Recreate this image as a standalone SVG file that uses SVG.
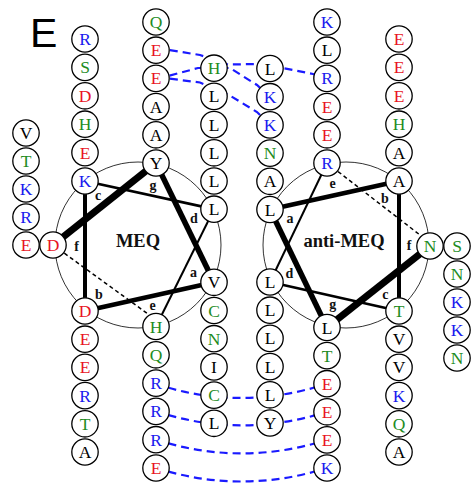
<svg xmlns="http://www.w3.org/2000/svg" width="471" height="483" viewBox="0 0 471 483">
<style>
.wheel{fill:none;stroke:#333;stroke-width:1}
.hx{stroke:#000;stroke-linecap:butt;fill:none}
.hd{stroke:#000;stroke-width:1.5;stroke-dasharray:4 3;fill:none}
.sb{stroke:#1a1aff;stroke-width:2.2;stroke-dasharray:8 5;fill:none}
.nd circle{fill:#fff;stroke:#000;stroke-width:1.3}
.nd text{font-family:"Liberation Serif","Times New Roman",serif;font-size:17.5px;text-anchor:middle}
.k text{fill:#000}
.r text{fill:#e8141e}
.b text{fill:#1a1aee}
.g text{fill:#1e8c1e}
.hp{font-family:"Liberation Serif","Times New Roman",serif;font-size:14px;font-weight:bold;text-anchor:middle;fill:#111}
.ttl{font-family:"Liberation Serif","Times New Roman",serif;font-size:18.5px;font-weight:bold;text-anchor:middle;fill:#111}
</style>
<rect width="471" height="483" fill="#fff"/>
<text x="30" y="46.5" font-family="Liberation Sans, Arial, sans-serif" font-size="41">E</text>

<g id="wheels">
<circle class="wheel" cx="138" cy="245" r="83"/>
<circle class="wheel" cx="346" cy="245" r="83"/>
</g>

<g id="connectors">
<line class="hx" x1="53" y1="245" x2="156" y2="163" stroke-width="7"/>
<line class="hx" x1="156" y1="163" x2="214" y2="282.3" stroke-width="5.5"/>
<line class="hx" x1="214" y1="282.3" x2="85" y2="311" stroke-width="4.5"/>
<line class="hx" x1="85" y1="311" x2="85" y2="181" stroke-width="4"/>
<line class="hx" x1="85" y1="181" x2="214" y2="209.2" stroke-width="2.8"/>
<line class="hx" x1="214" y1="209.2" x2="156" y2="326.5" stroke-width="2"/>
<line class="hd" x1="53" y1="245" x2="148" y2="314"/>
<line class="hx" x1="430" y1="246" x2="327" y2="327.5" stroke-width="7"/>
<line class="hx" x1="327" y1="327.5" x2="270" y2="209.5" stroke-width="5.5"/>
<line class="hx" x1="270" y1="209.5" x2="399" y2="181" stroke-width="4.5"/>
<line class="hx" x1="399" y1="181" x2="399" y2="311" stroke-width="4"/>
<line class="hx" x1="399" y1="311" x2="270" y2="282" stroke-width="2.8"/>
<line class="hx" x1="270" y1="282" x2="327" y2="163" stroke-width="2"/>
<line class="hd" x1="327" y1="163" x2="420" y2="235"/>
<path class="sb" d="M157,48 L200,55 L214,60 L228,64.5 L257,64 L283,68 L313,74 L327,78"/>
<path class="sb" d="M157,79 L198,68 L230,68 L257,85 L270,97"/>
<path class="sb" d="M157,77 L200,82.5 L229,95 L257,112 L270,125"/>
<path class="sb" d="M156,384 Q241,412 327,383.7"/>
<path class="sb" d="M156,411.4 Q241,439 327,411.8"/>
<path class="sb" d="M156,439.7 Q241,467 327,439.9"/>
<path class="sb" d="M156,468 Q241,495 327,468"/>
</g>

<g id="n1-V" class="nd k" transform="translate(26,133)"><circle r="13.2"/><text y="6">V</text></g>
<g id="n1-T" class="nd g" transform="translate(26,161)"><circle r="13.2"/><text y="6">T</text></g>
<g id="n1-K" class="nd b" transform="translate(26,189)"><circle r="13.2"/><text y="6">K</text></g>
<g id="n1-R" class="nd b" transform="translate(26,217)"><circle r="13.2"/><text y="6">R</text></g>
<g id="n1-E" class="nd r" transform="translate(26,245)"><circle r="13.2"/><text y="6">E</text></g>
<g id="meq-f-D" class="nd r" transform="translate(53,245)"><circle r="13.2"/><text y="6">D</text></g>

<g id="n2-R" class="nd b" transform="translate(85,39)"><circle r="13.2"/><text y="6">R</text></g>
<g id="n2-S" class="nd g" transform="translate(85,67.4)"><circle r="13.2"/><text y="6">S</text></g>
<g id="n2-D" class="nd r" transform="translate(85,95.8)"><circle r="13.2"/><text y="6">D</text></g>
<g id="n2-H" class="nd g" transform="translate(85,124.2)"><circle r="13.2"/><text y="6">H</text></g>
<g id="n2-E" class="nd r" transform="translate(85,152.6)"><circle r="13.2"/><text y="6">E</text></g>
<g id="meq-c-K" class="nd b" transform="translate(85,181)"><circle r="13.2"/><text y="6">K</text></g>
<g id="meq-b-D" class="nd r" transform="translate(85,311)"><circle r="13.2"/><text y="6">D</text></g>
<g id="n2-E2" class="nd r" transform="translate(85,339.2)"><circle r="13.2"/><text y="6">E</text></g>
<g id="n2-E3" class="nd r" transform="translate(85,367.4)"><circle r="13.2"/><text y="6">E</text></g>
<g id="n2-R2" class="nd b" transform="translate(85,395.6)"><circle r="13.2"/><text y="6">R</text></g>
<g id="n2-T" class="nd g" transform="translate(85,423.8)"><circle r="13.2"/><text y="6">T</text></g>
<g id="n2-A" class="nd k" transform="translate(85,452)"><circle r="13.2"/><text y="6">A</text></g>

<g id="n3-Q" class="nd g" transform="translate(156,22)"><circle r="13.2"/><text y="6">Q</text></g>
<g id="n3-E1" class="nd r" transform="translate(156,50.2)"><circle r="13.2"/><text y="6">E</text></g>
<g id="n3-E2" class="nd r" transform="translate(156,78.4)"><circle r="13.2"/><text y="6">E</text></g>
<g id="n3-A1" class="nd k" transform="translate(156,106.6)"><circle r="13.2"/><text y="6">A</text></g>
<g id="n3-A2" class="nd k" transform="translate(156,134.8)"><circle r="13.2"/><text y="6">A</text></g>
<g id="meq-g-Y" class="nd k" transform="translate(156,163)"><circle r="13.2"/><text y="6">Y</text></g>
<g id="meq-e-H" class="nd g" transform="translate(156,326.5)"><circle r="13.2"/><text y="6">H</text></g>
<g id="n3-Q2" class="nd g" transform="translate(156,354.8)"><circle r="13.2"/><text y="6">Q</text></g>
<g id="n3-R1" class="nd b" transform="translate(156,383.1)"><circle r="13.2"/><text y="6">R</text></g>
<g id="n3-R2" class="nd b" transform="translate(156,411.4)"><circle r="13.2"/><text y="6">R</text></g>
<g id="n3-R3" class="nd b" transform="translate(156,439.7)"><circle r="13.2"/><text y="6">R</text></g>
<g id="n3-E3" class="nd r" transform="translate(156,468)"><circle r="13.2"/><text y="6">E</text></g>

<g id="n4-H" class="nd g" transform="translate(214,68.2)"><circle r="13.2"/><text y="6">H</text></g>
<g id="n4-L1" class="nd k" transform="translate(214,96.4)"><circle r="13.2"/><text y="6">L</text></g>
<g id="n4-L2" class="nd k" transform="translate(214,124.6)"><circle r="13.2"/><text y="6">L</text></g>
<g id="n4-L3" class="nd k" transform="translate(214,152.8)"><circle r="13.2"/><text y="6">L</text></g>
<g id="n4-L4" class="nd k" transform="translate(214,181)"><circle r="13.2"/><text y="6">L</text></g>
<g id="meq-d-L" class="nd k" transform="translate(214,209.2)"><circle r="13.2"/><text y="6">L</text></g>
<g id="meq-a-V" class="nd k" transform="translate(214,282.3)"><circle r="13.2"/><text y="6">V</text></g>
<g id="n4-C1" class="nd g" transform="translate(214,310.5)"><circle r="13.2"/><text y="6">C</text></g>
<g id="n4-N" class="nd g" transform="translate(214,338.7)"><circle r="13.2"/><text y="6">N</text></g>
<g id="n4-I" class="nd k" transform="translate(214,366.9)"><circle r="13.2"/><text y="6">I</text></g>
<g id="n4-C2" class="nd g" transform="translate(214,395.1)"><circle r="13.2"/><text y="6">C</text></g>
<g id="n4-L5" class="nd k" transform="translate(214,423.3)"><circle r="13.2"/><text y="6">L</text></g>

<g id="n5-L1" class="nd k" transform="translate(270,68.5)"><circle r="13.2"/><text y="6">L</text></g>
<g id="n5-K1" class="nd b" transform="translate(270,96.7)"><circle r="13.2"/><text y="6">K</text></g>
<g id="n5-K2" class="nd b" transform="translate(270,124.9)"><circle r="13.2"/><text y="6">K</text></g>
<g id="n5-N" class="nd g" transform="translate(270,153.1)"><circle r="13.2"/><text y="6">N</text></g>
<g id="n5-A" class="nd k" transform="translate(270,181.3)"><circle r="13.2"/><text y="6">A</text></g>
<g id="anti-a-L" class="nd k" transform="translate(270,209.5)"><circle r="13.2"/><text y="6">L</text></g>
<g id="anti-d-L" class="nd k" transform="translate(270,282)"><circle r="13.2"/><text y="6">L</text></g>
<g id="n5-L2" class="nd k" transform="translate(270,310.2)"><circle r="13.2"/><text y="6">L</text></g>
<g id="n5-L3" class="nd k" transform="translate(270,338.4)"><circle r="13.2"/><text y="6">L</text></g>
<g id="n5-L4" class="nd k" transform="translate(270,366.6)"><circle r="13.2"/><text y="6">L</text></g>
<g id="n5-L5" class="nd k" transform="translate(270,394.8)"><circle r="13.2"/><text y="6">L</text></g>
<g id="n5-Y" class="nd k" transform="translate(270,423)"><circle r="13.2"/><text y="6">Y</text></g>

<g id="n6-K1" class="nd b" transform="translate(327,22)"><circle r="13.2"/><text y="6">K</text></g>
<g id="n6-L" class="nd k" transform="translate(327,50.2)"><circle r="13.2"/><text y="6">L</text></g>
<g id="n6-R1" class="nd b" transform="translate(327,78.4)"><circle r="13.2"/><text y="6">R</text></g>
<g id="n6-E1" class="nd r" transform="translate(327,106.6)"><circle r="13.2"/><text y="6">E</text></g>
<g id="n6-E2" class="nd r" transform="translate(327,134.8)"><circle r="13.2"/><text y="6">E</text></g>
<g id="anti-e-R" class="nd b" transform="translate(327,163)"><circle r="13.2"/><text y="6">R</text></g>
<g id="anti-g-L" class="nd k" transform="translate(327,327.5)"><circle r="13.2"/><text y="6">L</text></g>
<g id="n6-T" class="nd g" transform="translate(327,355.6)"><circle r="13.2"/><text y="6">T</text></g>
<g id="n6-E3" class="nd r" transform="translate(327,383.7)"><circle r="13.2"/><text y="6">E</text></g>
<g id="n6-E4" class="nd r" transform="translate(327,411.8)"><circle r="13.2"/><text y="6">E</text></g>
<g id="n6-E5" class="nd r" transform="translate(327,439.9)"><circle r="13.2"/><text y="6">E</text></g>
<g id="n6-K2" class="nd b" transform="translate(327,468)"><circle r="13.2"/><text y="6">K</text></g>

<g id="n7-E1" class="nd r" transform="translate(399,39)"><circle r="13.2"/><text y="6">E</text></g>
<g id="n7-E2" class="nd r" transform="translate(399,67.4)"><circle r="13.2"/><text y="6">E</text></g>
<g id="n7-E3" class="nd r" transform="translate(399,95.8)"><circle r="13.2"/><text y="6">E</text></g>
<g id="n7-H" class="nd g" transform="translate(399,124.2)"><circle r="13.2"/><text y="6">H</text></g>
<g id="n7-A" class="nd k" transform="translate(399,152.6)"><circle r="13.2"/><text y="6">A</text></g>
<g id="anti-b-A" class="nd k" transform="translate(399,181)"><circle r="13.2"/><text y="6">A</text></g>
<g id="anti-c-T" class="nd g" transform="translate(399,311)"><circle r="13.2"/><text y="6">T</text></g>
<g id="n7-V1" class="nd k" transform="translate(399,339.2)"><circle r="13.2"/><text y="6">V</text></g>
<g id="n7-V2" class="nd k" transform="translate(399,367.4)"><circle r="13.2"/><text y="6">V</text></g>
<g id="n7-K" class="nd b" transform="translate(399,395.6)"><circle r="13.2"/><text y="6">K</text></g>
<g id="n7-Q" class="nd g" transform="translate(399,423.8)"><circle r="13.2"/><text y="6">Q</text></g>
<g id="n7-A2" class="nd k" transform="translate(399,452)"><circle r="13.2"/><text y="6">A</text></g>
<g id="anti-f-N" class="nd g" transform="translate(430,246)"><circle r="13.2"/><text y="6">N</text></g>

<g id="n8-S" class="nd g" transform="translate(457,246)"><circle r="13.2"/><text y="6">S</text></g>
<g id="n8-N1" class="nd g" transform="translate(457,274)"><circle r="13.2"/><text y="6">N</text></g>
<g id="n8-K1" class="nd b" transform="translate(457,302)"><circle r="13.2"/><text y="6">K</text></g>
<g id="n8-K2" class="nd b" transform="translate(457,330)"><circle r="13.2"/><text y="6">K</text></g>
<g id="n8-N2" class="nd g" transform="translate(457,358)"><circle r="13.2"/><text y="6">N</text></g>

<g id="labels">
<text class="ttl" x="138" y="247">MEQ</text>
<text class="ttl" x="344" y="247">anti-MEQ</text>
<text class="hp" x="193.5" y="276.5">a</text>
<text class="hp" x="99" y="299">b</text>
<text class="hp" x="98" y="199.5">c</text>
<text class="hp" x="194" y="223">d</text>
<text class="hp" x="152.7" y="310">e</text>
<text class="hp" x="76.5" y="250.7">f</text>
<text class="hp" x="153" y="189.5">g</text>
<text class="hp" x="290" y="222.6">a</text>
<text class="hp" x="385" y="202.7">b</text>
<text class="hp" x="385.3" y="298.8">c</text>
<text class="hp" x="289.5" y="277.7">d</text>
<text class="hp" x="332.7" y="188.3">e</text>
<text class="hp" x="409" y="249.7">f</text>
<text class="hp" x="332.7" y="308.5">g</text>
</g>
</svg>
